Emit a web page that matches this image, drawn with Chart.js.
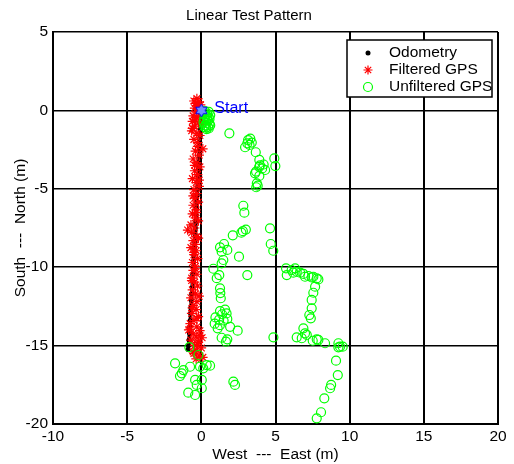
<!DOCTYPE html>
<html>
<head>
<meta charset="utf-8">
<script src="https://cdn.jsdelivr.net/npm/chart.js@4.4.0/dist/chart.umd.min.js"></script>
<style>
  html, body { margin: 0; padding: 0; background: #fff; }
  canvas { display: block; }
</style>
</head>
<body>
<canvas id="chart" width="514" height="464"></canvas>
<script>
// Odometry track (m)
const odomX = [0.00, -0.01, -0.03, -0.05, -0.07, -0.10, -0.12, -0.14, -0.17, -0.19, -0.21, -0.23, -0.26, -0.28, -0.30, -0.33, -0.35, -0.38, -0.40, -0.42, -0.45, -0.47, -0.50, -0.52, -0.55, -0.57, -0.60, -0.62, -0.65, -0.67, -0.70, -0.72, -0.75, -0.77, -0.80, -0.83, -0.86, -0.90];
const odomY = [0.00, -0.35, -0.80, -1.20, -1.60, -2.05, -2.45, -2.90, -3.30, -3.70, -4.15, -4.55, -5.00, -5.40, -5.80, -6.25, -6.65, -7.10, -7.50, -7.90, -8.35, -8.75, -9.20, -9.60, -10.00, -10.45, -10.85, -11.30, -11.70, -12.10, -12.55, -12.95, -13.40, -13.80, -14.20, -14.65, -15.00, -15.25];

// Filtered GPS
const filtX = [-0.30, -0.15, -0.40, -0.25, -0.05, -0.45, -0.20, -0.35, -0.10, -0.55, -0.30, -0.60, -0.20, -0.45, -0.65, -0.30, -0.10, -0.50, -0.25, 0.10, -0.40, -0.15, -0.55, -0.30, -0.10, -0.45, -0.25, -0.60, -0.35, -0.15, -0.50, -0.30, -0.45, -0.20, -0.55, -0.35, -0.60, -0.40, -0.20, -0.92, -0.45, -0.65, -0.30, -0.55, -0.40, -0.70, -0.35, -0.50, -0.25, -0.60, -0.40, -0.55, -0.30, -0.65, -0.45, -0.25, -0.60, -0.40, -0.70, -0.30, -0.55, -0.35, -0.65, -0.20, -0.50, -0.75, -0.30, -0.85, -0.10, -0.55, -0.35, 0.05, -0.70, -0.20, -0.45, 0.00, -0.30, -0.50, -0.15, -0.35, 0.05,
  -0.50, -0.20, -0.40, -0.60, -0.25, -0.45, -0.15, -0.55, -0.35, -0.70, -0.20, -0.50, -0.40, -0.65, -0.15, -0.60, -0.30, -0.75, -0.10, -0.25, -0.55, 0.10];
const filtY = [0.75, 0.55, 0.45, 0.30, 0.35, 0.15, 0.05, -0.10, -0.20, -0.35, -0.45, -0.70, -0.80, -1.00, -1.30, -1.45, -1.60, -1.85, -2.05, -2.45, -2.60, -2.85, -3.10, -3.35, -3.60, -3.85, -4.10, -4.35, -4.60, -4.85, -5.05, -5.30, -5.60, -5.85, -6.05, -6.35, -6.60, -6.85, -7.05, -7.63, -7.50, -7.80, -8.05, -8.30, -8.55, -8.75, -8.95, -9.20, -9.45, -9.70, -9.95, -10.20, -10.45, -10.70, -10.95, -11.20, -11.45, -11.70, -11.95, -12.20, -12.45, -12.70, -12.95, -13.15, -13.40, -13.60, -13.80, -14.00, -14.05, -14.25, -14.45, -14.50, -14.65, -14.80, -15.00, -15.15, -15.30, -15.50, -15.65, -15.85, -0.87,
  0.60, 0.20, -0.60, -1.15, -2.30, -3.50, -4.45, -5.45, -6.50, -7.30, -8.15, -9.05, -10.10, -10.85, -11.85, -12.60, -13.25, -13.95, -14.35, -14.90, -15.40, -15.75];

// Unfiltered GPS
const gpsX = [0.25, 0.40, 0.30, 0.50, 0.20, 0.45, 0.35, 0.55, 0.25, 0.45, 0.15, 0.60, 0.38, 0.30, 0.20, 0.50, 0.55, 0.35, 0.50, 0.20, 0.60, 0.40,
  1.89, 3.15, 3.30, 3.10, 2.95, 3.40, 3.25, 3.67, 3.91, 4.92, 4.99, 3.95, 4.10, 3.90, 4.30, 4.20, 3.69, 3.62, 3.91, 3.80, 3.70, 3.74,
  2.83, 2.90, 4.63, 3.00, 2.80, 2.70, 2.12, 4.68, 4.85, 1.26, 1.53, 1.37, 1.75, 1.48, 1.37, 2.54, 0.81, 1.21, 1.04, 3.10,
  1.26, 1.31, 1.28, 1.26, 1.60, 0.95, 1.40, 1.75, 0.90, 1.25, 1.50, 1.94, 1.10, 1.70, 1.20, 2.45, 1.37, 1.75, 1.66,
  -0.81, -0.20, -1.77, 0.36, 0.59, 0.13, -0.09, -0.76, -1.21, -1.32, -1.44, -0.42, 0.03, -0.31, 0.03, -0.88, -0.42, 2.16, 2.27,
  4.86, 5.71, 5.76, 6.09, 6.32, 6.43, 6.20, 6.66, 6.88, 6.99, 7.22, 7.44, 7.55, 7.78, 7.89,
  7.67, 7.55, 7.44, 7.44, 7.28, 7.38, 6.88, 6.99, 6.77, 6.43, 7.11, 7.51, 7.78, 7.89, 8.34,
  9.24, 9.35, 9.53, 9.24, 9.08, 9.20, 8.75, 8.68, 8.29, 8.07, 7.78];
const gpsY = [-0.05, -0.20, -0.35, -0.45, -0.50, -0.65, -0.80, -0.85, -0.95, -1.05, -0.75, -0.30, -0.55, -1.10, -0.20, -0.10, -0.55, -1.20, -1.15, -1.05, -0.95, -0.40,
  -1.46, -1.90, -1.80, -2.10, -2.35, -2.05, -2.20, -2.67, -3.16, -3.06, -3.55, -3.50, -3.70, -3.60, -3.80, -3.45, -3.90, -4.01, -4.18, -4.80, -4.90, -4.65,
  -6.08, -6.52, -7.52, -7.60, -7.70, -7.80, -7.97, -8.52, -8.95, -8.73, -8.52, -9.01, -8.90, -9.54, -9.75, -9.33, -10.10, -10.50, -10.70, -10.50,
  -11.35, -11.98, -11.65, -12.80, -12.70, -13.20, -13.00, -13.30, -13.60, -13.70, -13.40, -13.80, -13.90, -12.95, -13.35, -14.05, -14.50, -14.60, -14.75,
  -15.10, -15.60, -16.13, -16.24, -16.28, -16.45, -16.34, -16.35, -16.56, -16.77, -16.94, -17.19, -17.19, -17.51, -17.72, -18.00, -18.15, -17.30, -17.51,
  -14.47, -10.07, -10.50, -10.18, -10.07, -10.29, -10.35, -10.35, -10.43, -10.61, -10.56, -10.65, -10.61, -10.71, -10.78,
  -11.24, -11.63, -12.09, -12.62, -13.05, -13.26, -13.90, -14.22, -14.53, -14.47, -14.32, -14.69, -14.60, -14.64, -14.85,
  -14.85, -15.07, -15.07, -15.11, -15.96, -16.88, -17.51, -17.72, -18.36, -19.25, -19.64];

const startX = [0];
const startY = [0];
const startLabel = 'Start';

const xTicks = [-10, -5, 0, 5, 10, 15, 20];
const yTicks = [-20, -15, -10, -5, 0, 5];

const font = "'Liberation Sans', Arial, sans-serif";
const toPoints = (xs, ys) => xs.map((x, i) => ({ x: x, y: ys[i] }));

function hexagram(r) {
    const s = Math.ceil(r * 2 + 4);
    const c = document.createElement('canvas');
    c.width = s;
    c.height = s;
    const g = c.getContext('2d');
    g.translate(s / 2, s / 2);
    g.beginPath();
    for (let i = 0; i < 12; i++) {
        const a = -Math.PI / 2 + i * Math.PI / 6;
        const rr = i % 2 === 0 ? r : r * 0.58;
        g.lineTo(rr * Math.cos(a), rr * Math.sin(a));
    }
    g.closePath();
    g.fillStyle = '#6f8fff';
    g.fill();
    g.strokeStyle = '#0000ff';
    g.lineWidth = 1;
    g.stroke();
    return c;
}

// start label + boxed legend, drawn on top of the axes
const overlay = {
    id: 'overlay',
    afterDraw(chart) {
        const ctx = chart.ctx;
        const xs = chart.scales.x, ys = chart.scales.y;
        ctx.save();
        ctx.font = '16px ' + font;
        ctx.fillStyle = '#0000ff';
        ctx.textBaseline = 'middle';
        ctx.fillText(startLabel, xs.getPixelForValue(startX[0]) + 13, ys.getPixelForValue(startY[0]) - 2);

        const area = chart.chartArea;
        const bx = area.right - 151, by = area.top + 8, bw = 145, bh = 57;
        ctx.fillStyle = '#fff';
        ctx.fillRect(bx, by, bw, bh);
        ctx.strokeStyle = '#000';
        ctx.lineWidth = 1.5;
        ctx.strokeRect(bx, by, bw, bh);

        const mx = bx + 21, tx = bx + 42;
        const rows = [by + 13, by + 30, by + 47];
        // odometry dot
        ctx.fillStyle = '#000';
        ctx.beginPath();
        ctx.arc(mx, rows[0], 2.5, 0, Math.PI * 2);
        ctx.fill();
        // asterisk
        ctx.strokeStyle = '#ff0000';
        ctx.lineWidth = 1.2;
        ctx.beginPath();
        for (let i = 0; i < 4; i++) {
            const a = i * Math.PI / 4;
            ctx.moveTo(mx - 4.5 * Math.cos(a), rows[1] - 4.5 * Math.sin(a));
            ctx.lineTo(mx + 4.5 * Math.cos(a), rows[1] + 4.5 * Math.sin(a));
        }
        ctx.stroke();
        // circle
        ctx.strokeStyle = '#00ff00';
        ctx.beginPath();
        ctx.arc(mx, rows[2], 4.5, 0, Math.PI * 2);
        ctx.stroke();

        ctx.font = '15.5px ' + font;
        ctx.fillStyle = '#000';
        ctx.textAlign = 'left';
        chart.data.datasets.slice(0, 3).forEach((ds, i) => ctx.fillText(ds.label, tx, rows[i]));
        ctx.restore();
    }
};

new Chart(document.getElementById('chart'), {
    type: 'scatter',
    data: {
        datasets: [
            {
                label: 'Odometry',
                data: toPoints(odomX, odomY),
                showLine: true,
                borderColor: '#000',
                borderWidth: 3.5,
                backgroundColor: '#000',
                pointRadius: 2.5,
                pointBorderWidth: 0,
                order: 3
            },
            {
                label: 'Filtered GPS',
                data: toPoints(filtX, filtY),
                pointStyle: 'star',
                borderColor: '#ff0000',
                backgroundColor: '#ff0000',
                pointRadius: 4.8,
                pointBorderWidth: 1.2,
                order: 2
            },
            {
                label: 'Unfiltered GPS',
                data: toPoints(gpsX, gpsY),
                pointStyle: 'circle',
                borderColor: '#00ff00',
                backgroundColor: 'rgba(0,0,0,0)',
                pointRadius: 4.5,
                pointBorderWidth: 1.2,
                order: 1
            },
            {
                label: 'Start',
                data: toPoints(startX, startY),
                pointStyle: hexagram(6.5),
                pointRadius: 7,
                order: 0
            }
        ]
    },
    options: {
        responsive: false,
        animation: false,
        devicePixelRatio: 1,
        layout: { padding: { top: 0, right: 16, left: 0, bottom: 0 } },
        plugins: {
            legend: { display: false },
            tooltip: { enabled: false },
            title: {
                display: true,
                text: 'Linear Test Pattern',
                color: '#000',
                font: { family: font, size: 15, weight: 'normal' },
                padding: { top: 7, bottom: 7 }
            }
        },
        scales: {
            x: {
                type: 'linear',
                min: -10,
                max: 20,
                afterFit: s => { s.height = 40; },
                afterBuildTicks: s => { s.ticks = xTicks.map(v => ({ value: v })); },
                ticks: { color: '#000', font: { family: font, size: 15.5 }, padding: 3, maxRotation: 0 },
                grid: { color: '#000', lineWidth: 2, drawTicks: false },
                border: { color: '#000', width: 2 },
                title: {
                    display: true,
                    text: 'West  ---  East (m)',
                    color: '#000',
                    font: { family: font, size: 15.5 },
                    padding: { top: 0, bottom: 0 }
                }
            },
            y: {
                type: 'linear',
                min: -20,
                max: 5,
                afterFit: s => { s.width = 53; },
                afterBuildTicks: s => { s.ticks = yTicks.map(v => ({ value: v })); },
                ticks: { color: '#000', font: { family: font, size: 15.5 }, padding: 5 },
                grid: { color: '#000', lineWidth: 1.5, drawTicks: false },
                border: { color: '#000', width: 2 },
                title: {
                    display: true,
                    text: 'South  ---  North (m)',
                    color: '#000',
                    font: { family: font, size: 15.5 },
                    padding: { top: 11, bottom: 0 }
                }
            }
        }
    },
    plugins: [overlay]
});
</script>
</body>
</html>
